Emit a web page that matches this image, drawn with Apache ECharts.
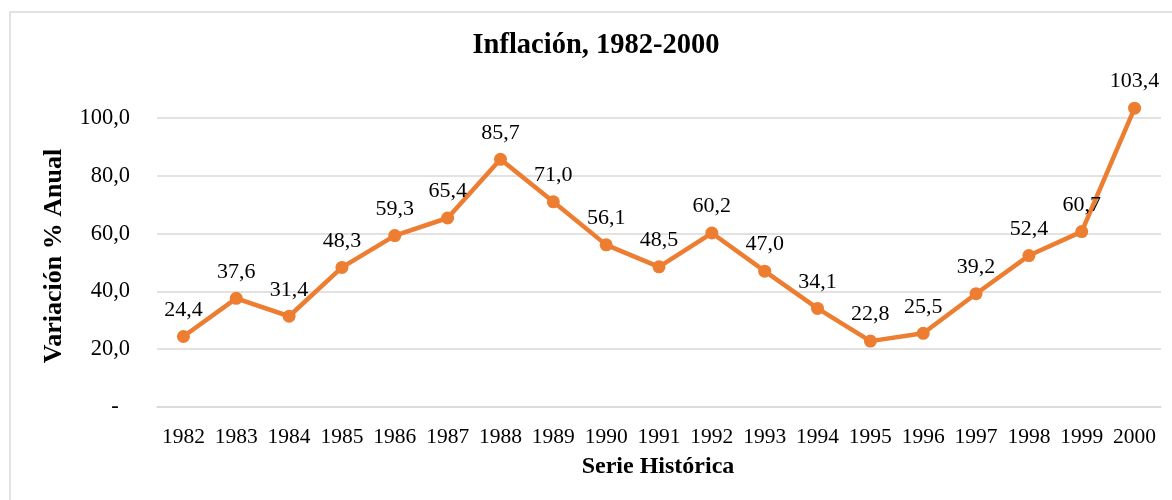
<!DOCTYPE html>
<html>
<head>
<meta charset="utf-8">
<script src="https://cdn.jsdelivr.net/npm/echarts@6/dist/echarts.min.js"></script>
<style>
html,body{margin:0;padding:0;background:#fff;}
#chart{width:1172px;height:500px;}
</style>
</head>
<body>
<div id="chart"></div>
<script>
const years = ['1982','1983','1984','1985','1986','1987','1988','1989','1990','1991','1992','1993','1994','1995','1996','1997','1998','1999','2000'];
const inflation = [24.4, 37.6, 31.4, 48.3, 59.3, 65.4, 85.7, 71.0, 56.1, 48.5, 60.2, 47.0, 34.1, 22.8, 25.5, 39.2, 52.4, 60.7, 103.4];
const yTicks = [0, 20, 40, 60, 80, 100];
const titleText = 'Inflación, 1982-2000';
const xName = 'Serie Histórica';
const yName = 'Variación % Anual';

const fmt = v => v.toFixed(1).replace('.', ',');
const serif = '"Liberation Serif", "Times New Roman", serif';

const chart = echarts.init(document.getElementById('chart'));
chart.setOption({
  animation: false,
  backgroundColor: '#fff',
  graphic: [
    { type: 'rect', shape: { x: 10, y: 12, width: 1200, height: 520 }, style: { fill: 'none', stroke: '#d9d9d9', lineWidth: 1.5 }, silent: true },
    { type: 'text', x: 596, y: 46, style: { text: titleText, font: 'bold 28.5px ' + serif, fill: '#000', align: 'center', verticalAlign: 'middle' } },
    { type: 'text', x: 54, y: 256, rotation: Math.PI / 2, style: { text: yName, font: 'bold 26px ' + serif, fill: '#000', align: 'center', verticalAlign: 'middle' } },
    { type: 'text', x: 658, y: 467, style: { text: xName, font: 'bold 24px ' + serif, fill: '#000', align: 'center', verticalAlign: 'middle' } }
  ],
  grid: { left: 157, right: 11, top: 118, bottom: 93, containLabel: false },
  xAxis: {
    type: 'category',
    data: years,
    boundaryGap: true,
    axisLine: { show: true, lineStyle: { color: '#d9d9d9', width: 1.5 } },
    axisTick: { show: false },
    axisLabel: { fontFamily: serif, fontSize: 21.5, color: '#000', margin: 19, interval: 0 }
  },
  yAxis: {
    type: 'value',
    min: yTicks[0],
    max: yTicks[yTicks.length - 1],
    interval: 20,
    axisLine: { show: false },
    axisTick: { show: false },
    splitLine: { show: true, lineStyle: { color: '#d9d9d9', width: 1.5 } },
    axisLabel: {
      fontFamily: serif, fontSize: 22.5, color: '#000', margin: 27,
      formatter: v => v === 0 ? '-  ' : fmt(v)
    }
  },
  series: [{
    type: 'line',
    data: inflation,
    clip: false,
    symbol: 'circle',
    symbolSize: 13,
    lineStyle: { color: '#ED7D31', width: 4.5 },
    itemStyle: { color: '#ED7D31' },
    label: {
      show: true,
      position: 'top',
      distance: 9,
      fontFamily: serif,
      fontSize: 22,
      color: '#000',
      formatter: p => fmt(p.value)
    }
  }]
});
</script>
</body>
</html>
